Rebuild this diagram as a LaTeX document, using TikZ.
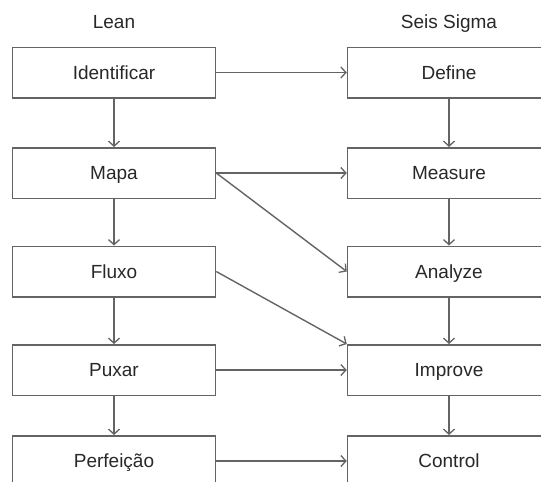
\documentclass[tikz,border=0pt]{standalone}
\usepackage{fontspec}
\setmainfont{Liberation Sans}
\usetikzlibrary{arrows.meta}
\definecolor{linegray}{RGB}{100,100,100}
\definecolor{textgray}{RGB}{40,40,40}
\begin{document}
\begin{tikzpicture}[x=1pt,y=-1pt,
  stage/.style={draw=linegray, line width=1.5pt, fill=white, minimum width=203pt,
    minimum height=50.5pt, inner sep=0pt, text=textgray,
    text height=13.6pt, text depth=0pt,
    font=\fontsize{19}{22}\selectfont},
  heading/.style={text=textgray, inner sep=0pt, text height=13.6pt, text depth=0pt,
    font=\fontsize{19}{22}\selectfont},
  flow/.style={draw=linegray, line width=1.4pt, -{Straight Barb[length=5pt,width=11pt,line width=1.3pt]}}]
\useasboundingbox (0,0) rectangle (541,482);
\clip (0,0) rectangle (541,482);
\fill[white] (0,0) rectangle (541,482);

% column headings
\node[heading] (lean) at (114,22) {Lean};
\node[heading] (sigma) at (449,22) {Seis Sigma};

% Lean steps
\node[stage] (ident) at (114,72.5) {Identificar};
\node[stage] (mapa)  at (114,173) {Mapa};
\node[stage] (fluxo) at (114,271.5) {Fluxo};
\node[stage] (puxar) at (114,370) {Puxar};
\node[stage] (perf)  at (114,461) {Perfeição};

% Six Sigma (DMAIC) steps
\node[stage] (define)  at (449,72.5) {Define};
\node[stage] (measure) at (449,173) {Measure};
\node[stage] (analyze) at (449,271.5) {Analyze};
\node[stage] (improve) at (449,370) {Improve};
\node[stage] (control) at (449,461) {Control};

% sequence within each column
\draw[flow] (ident) -- (mapa);
\draw[flow] (mapa) -- (fluxo);
\draw[flow] (fluxo) -- (puxar);
\draw[flow] (puxar) -- (perf);
\draw[flow] (define) -- (measure);
\draw[flow] (measure) -- (analyze);
\draw[flow] (analyze) -- (improve);
\draw[flow] (improve) -- (control);

% correspondence between the two approaches
\draw[flow] (ident.east) -- (define.west);
\draw[flow] (mapa.east) -- (measure.west);
\draw[flow] (mapa.east) -- (analyze.west);
\draw[flow] (fluxo.east) -- (improve.north west);
\draw[flow] (puxar.east) -- (improve.west);
\draw[flow] (perf.east) -- (control.west);
\end{tikzpicture}
\end{document}
